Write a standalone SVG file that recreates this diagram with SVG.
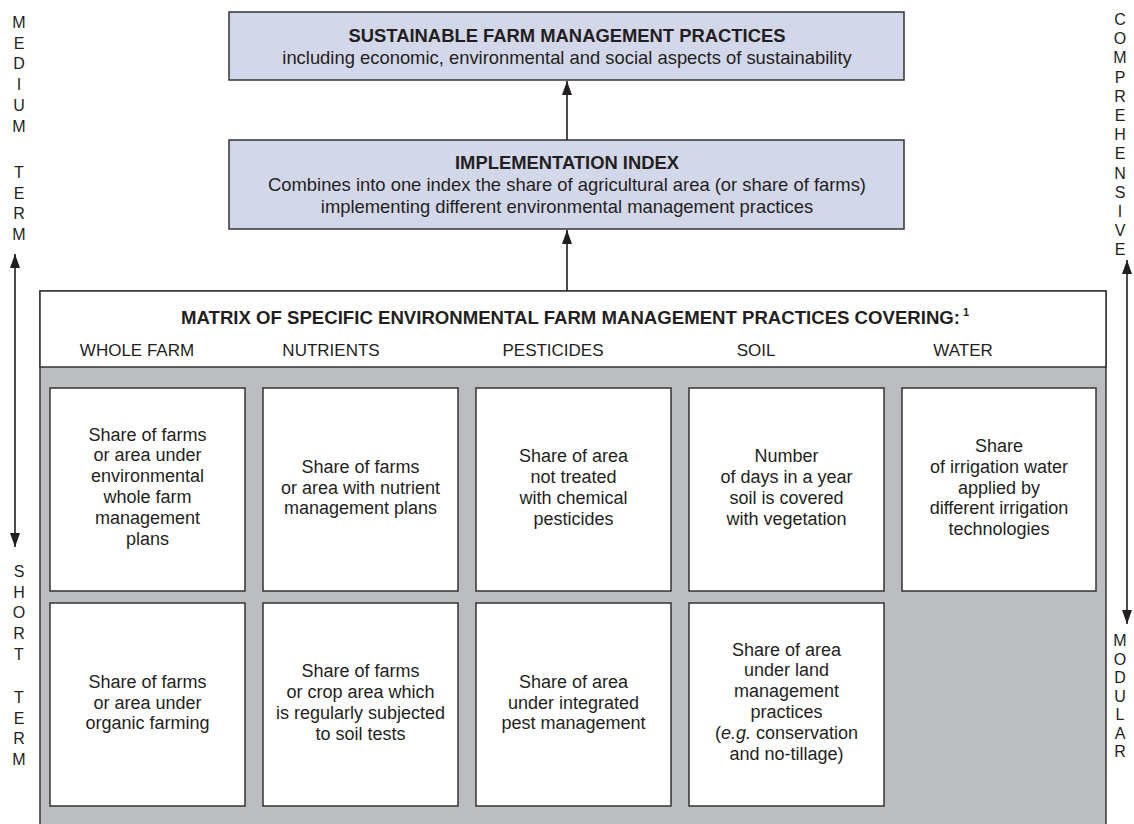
<svg xmlns="http://www.w3.org/2000/svg" width="1134" height="824" viewBox="0 0 1134 824">
<defs>
<marker id="ah" viewBox="0 0 14 10" refX="14" refY="5" markerWidth="14" markerHeight="10" markerUnits="userSpaceOnUse" orient="auto-start-reverse">
<path d="M0,0 L14,5 L0,10 Z" fill="#231f20"/>
</marker>
<style>
text{font-family:"Liberation Sans",Arial,sans-serif;fill:#231f20}
.b{font-weight:bold}
.t{font-size:18.4px;text-anchor:middle}
.c{font-size:18px;text-anchor:middle}
.h{font-size:17px;text-anchor:middle}
.side{font-size:16px;text-anchor:middle}
.box{fill:#d3d7ea;stroke:#333;stroke-width:1.5}
.cell{fill:#fff;stroke:#333;stroke-width:1.5}
.conn{stroke:#231f20;stroke-width:1.6;fill:none}
</style>
</defs>
<rect width="1134" height="824" fill="#fff"/>

<g id="sustainable">
<rect class="box" x="229" y="12" width="675" height="68"/>
<text class="t b" x="567" y="42" font-size="17.5">SUSTAINABLE FARM MANAGEMENT PRACTICES</text>
<text class="t" x="567" y="64">including economic, environmental and social aspects of sustainability</text>
</g>

<g id="implementation">
<rect class="box" x="229" y="140" width="675" height="89"/>
<text class="t b" x="567" y="169" font-size="17.5">IMPLEMENTATION INDEX</text>
<text class="t" x="567" y="191">Combines into one index the share of agricultural area (or share of farms)</text>
<text class="t" x="567" y="213">implementing different environmental management practices</text>
</g>

<g id="matrix">
<rect x="40" y="291" width="1066" height="545" fill="#bcbdc1" stroke="#333" stroke-width="1.5"/>
<rect x="40" y="291" width="1066" height="76" fill="#fff" stroke="#333" stroke-width="1.5"/>
<text class="b" x="181" y="324" font-size="18" textLength="779" lengthAdjust="spacingAndGlyphs">MATRIX OF SPECIFIC ENVIRONMENTAL FARM MANAGEMENT PRACTICES COVERING:</text>
<text class="b" x="963" y="316" font-size="11">1</text>
<text class="h" x="137" y="356">WHOLE FARM</text>
<text class="h" x="331" y="356">NUTRIENTS</text>
<text class="h" x="553" y="356">PESTICIDES</text>
<text class="h" x="756" y="356">SOIL</text>
<text class="h" x="963" y="356">WATER</text>
</g>

<g id="wf1"><rect class="cell" x="50" y="388" width="195" height="203"/>
<text class="c" y="440.5"><tspan x="147.5">Share of farms</tspan><tspan x="147.5" dy="20.8">or area under</tspan><tspan x="147.5" dy="20.8">environmental</tspan><tspan x="147.5" dy="20.8">whole farm</tspan><tspan x="147.5" dy="20.8">management</tspan><tspan x="147.5" dy="20.8">plans</tspan></text></g>
<g id="nu1"><rect class="cell" x="263" y="388" width="195" height="203"/>
<text class="c" y="472.7"><tspan x="360.5">Share of farms</tspan><tspan x="360.5" dy="20.8">or area with nutrient</tspan><tspan x="360.5" dy="20.8">management plans</tspan></text></g>
<g id="pe1"><rect class="cell" x="476" y="388" width="195" height="203"/>
<text class="c" y="462.3"><tspan x="573.5">Share of area</tspan><tspan x="573.5" dy="20.8">not treated</tspan><tspan x="573.5" dy="20.8">with chemical</tspan><tspan x="573.5" dy="20.8">pesticides</tspan></text></g>
<g id="so1"><rect class="cell" x="689" y="388" width="195" height="203"/>
<text class="c" y="462.3"><tspan x="786.5">Number</tspan><tspan x="786.5" dy="20.8">of days in a year</tspan><tspan x="786.5" dy="20.8">soil is covered</tspan><tspan x="786.5" dy="20.8">with vegetation</tspan></text></g>
<g id="wa1"><rect class="cell" x="902" y="388" width="194" height="203"/>
<text class="c" y="451.9"><tspan x="999">Share</tspan><tspan x="999" dy="20.8">of irrigation water</tspan><tspan x="999" dy="20.8">applied by</tspan><tspan x="999" dy="20.8">different irrigation</tspan><tspan x="999" dy="20.8">technologies</tspan></text></g>

<g id="wf2"><rect class="cell" x="50" y="603" width="195" height="203"/>
<text class="c" y="687.7"><tspan x="147.5">Share of farms</tspan><tspan x="147.5" dy="20.8">or area under</tspan><tspan x="147.5" dy="20.8">organic farming</tspan></text></g>
<g id="nu2"><rect class="cell" x="263" y="603" width="195" height="203"/>
<text class="c" y="677.3"><tspan x="360.5">Share of farms</tspan><tspan x="360.5" dy="20.8">or crop area which</tspan><tspan x="360.5" dy="20.8">is regularly subjected</tspan><tspan x="360.5" dy="20.8">to soil tests</tspan></text></g>
<g id="pe2"><rect class="cell" x="476" y="603" width="195" height="203"/>
<text class="c" y="687.7"><tspan x="573.5">Share of area</tspan><tspan x="573.5" dy="20.8">under integrated</tspan><tspan x="573.5" dy="20.8">pest management</tspan></text></g>
<g id="so2"><rect class="cell" x="689" y="603" width="195" height="203"/>
<text class="c" y="655.5"><tspan x="786.5">Share of area</tspan><tspan x="786.5" dy="20.8">under land</tspan><tspan x="786.5" dy="20.8">management</tspan><tspan x="786.5" dy="20.8">practices</tspan><tspan x="786.5" dy="20.8">(<tspan font-style="italic">e.g.</tspan> conservation</tspan><tspan x="786.5" dy="20.8">and no-tillage)</tspan></text></g>

<g id="connectors">
<line class="conn" x1="567" y1="140" x2="567" y2="81" marker-end="url(#ah)"/>
<line class="conn" x1="567" y1="291" x2="567" y2="230" marker-end="url(#ah)"/>
<line class="conn" x1="15" y1="254" x2="15" y2="547" marker-start="url(#ah)" marker-end="url(#ah)"/>
<line class="conn" x1="1127" y1="260" x2="1127" y2="624" marker-start="url(#ah)" marker-end="url(#ah)"/>
</g>

<g id="left-axis">
<text class="side"><tspan x="19" y="28">M</tspan><tspan x="19" y="48.7">E</tspan><tspan x="19" y="69.4">D</tspan><tspan x="19" y="90.1">I</tspan><tspan x="19" y="110.8">U</tspan><tspan x="19" y="131.5">M</tspan><tspan x="19" y="178">T</tspan><tspan x="19" y="198.7">E</tspan><tspan x="19" y="219.4">R</tspan><tspan x="19" y="240">M</tspan></text>
<text class="side"><tspan x="19" y="577">S</tspan><tspan x="19" y="597.7">H</tspan><tspan x="19" y="618.4">O</tspan><tspan x="19" y="639.1">R</tspan><tspan x="19" y="659.8">T</tspan><tspan x="19" y="703">T</tspan><tspan x="19" y="723.7">E</tspan><tspan x="19" y="744.4">R</tspan><tspan x="19" y="765">M</tspan></text>
</g>
<g id="right-axis">
<text class="side"><tspan x="1120" y="25">C</tspan><tspan x="1120" y="44.2">O</tspan><tspan x="1120" y="63.4">M</tspan><tspan x="1120" y="82.6">P</tspan><tspan x="1120" y="101.8">R</tspan><tspan x="1120" y="121">E</tspan><tspan x="1120" y="140.2">H</tspan><tspan x="1120" y="159.4">E</tspan><tspan x="1120" y="178.6">N</tspan><tspan x="1120" y="197.8">S</tspan><tspan x="1120" y="217">I</tspan><tspan x="1120" y="236.2">V</tspan><tspan x="1120" y="255.4">E</tspan></text>
<text class="side"><tspan x="1120" y="646">M</tspan><tspan x="1120" y="664.5">O</tspan><tspan x="1120" y="683">D</tspan><tspan x="1120" y="701.5">U</tspan><tspan x="1120" y="720">L</tspan><tspan x="1120" y="738.5">A</tspan><tspan x="1120" y="757">R</tspan></text>
</g>
</svg>
